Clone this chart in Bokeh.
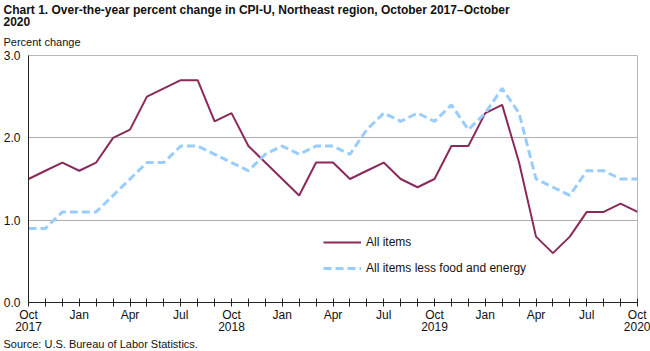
from bokeh.plotting import figure
from bokeh.models import (ColumnDataSource, FixedTicker, Legend, LegendItem,
                          Title, NumeralTickFormatter)
from bokeh.embed import file_html
from bokeh.resources import INLINE

months = ["Oct 2017", "Nov 2017", "Dec 2017", "Jan 2018", "Feb 2018", "Mar 2018",
          "Apr 2018", "May 2018", "Jun 2018", "Jul 2018", "Aug 2018", "Sep 2018",
          "Oct 2018", "Nov 2018", "Dec 2018", "Jan 2019", "Feb 2019", "Mar 2019",
          "Apr 2019", "May 2019", "Jun 2019", "Jul 2019", "Aug 2019", "Sep 2019",
          "Oct 2019", "Nov 2019", "Dec 2019", "Jan 2020", "Feb 2020", "Mar 2020",
          "Apr 2020", "May 2020", "Jun 2020", "Jul 2020", "Aug 2020", "Sep 2020",
          "Oct 2020"]
all_items = [1.5, 1.6, 1.7, 1.6, 1.7, 2.0, 2.1, 2.5, 2.6, 2.7, 2.7, 2.2,
             2.3, 1.9, 1.7, 1.5, 1.3, 1.7, 1.7, 1.5, 1.6, 1.7, 1.5, 1.4,
             1.5, 1.9, 1.9, 2.3, 2.4, 1.7, 0.8, 0.6, 0.8, 1.1, 1.1, 1.2, 1.1]
core = [0.9, 0.9, 1.1, 1.1, 1.1, 1.3, 1.5, 1.7, 1.7, 1.9, 1.9, 1.8,
        1.7, 1.6, 1.8, 1.9, 1.8, 1.9, 1.9, 1.8, 2.1, 2.3, 2.2, 2.3,
        2.2, 2.4, 2.1, 2.3, 2.6, 2.3, 1.5, 1.4, 1.3, 1.6, 1.6, 1.5, 1.5]
y_ticks = [0.0, 1.0, 2.0, 3.0]

x = list(range(len(months)))
src = ColumnDataSource(dict(x=x, all_items=all_items, core=core, month=months))

FONT = "Liberation Sans"

p = figure(width=650, height=351, output_backend="svg", toolbar_location=None,
           x_range=(0, len(months) - 1), y_range=(0, 3.0),
           min_border_left=28, min_border_right=13, min_border_top=0,
           min_border_bottom=0)

r1 = p.line("x", "all_items", source=src, line_color="#8B2A5A", line_width=2)
r2 = p.line("x", "core", source=src, line_color="#99CCFF", line_width=3,
            line_dash="8 4")

# axes
p.xaxis.ticker = FixedTicker(ticks=x)
overrides = {}
for i, m in enumerate(months):
    mon, yr = m.split()
    if mon == "Oct":
        overrides[i] = f"{mon}\n{yr}"
    elif mon in ("Jan", "Apr", "Jul"):
        overrides[i] = mon
    else:
        overrides[i] = ""
p.xaxis.major_label_overrides = overrides
p.xaxis.major_tick_in = 4
p.xaxis.major_tick_out = 4
p.xaxis.minor_tick_line_color = None
p.xaxis.axis_line_color = "#222222"
p.xaxis.major_tick_line_color = "#222222"
p.xaxis.major_label_text_font = FONT
p.xaxis.major_label_text_font_size = "12px"
p.xaxis.major_label_text_line_height = 0.9
p.xaxis.major_label_text_color = "#111111"
p.xaxis.major_label_standoff = 1

p.yaxis.ticker = FixedTicker(ticks=y_ticks)
p.yaxis.formatter = NumeralTickFormatter(format="0.0")
p.yaxis.major_tick_in = 0
p.yaxis.major_tick_out = 0
p.yaxis.minor_tick_line_color = None
p.yaxis.axis_line_color = "#222222"
p.yaxis.major_label_text_font = FONT
p.yaxis.major_label_text_font_size = "12px"
p.yaxis.major_label_text_color = "#111111"
p.yaxis.major_label_standoff = 8

p.xgrid.grid_line_color = None
p.ygrid.ticker = FixedTicker(ticks=y_ticks)
p.ygrid.grid_line_color = "#b0b0b0"
p.ygrid.grid_line_width = 1
p.outline_line_color = "#b8b8b8"
p.outline_line_width = 1
p.background_fill_color = "white"
p.border_fill_color = "white"

legend = Legend(items=[LegendItem(label="All items", renderers=[r1]),
                       LegendItem(label="All items less food and energy", renderers=[r2])],
                location=(295, 25), background_fill_alpha=0, border_line_color=None,
                glyph_width=38, glyph_height=18, spacing=8, padding=0, margin=0,
                label_text_font=FONT, label_text_font_size="12px",
                label_text_color="#111111", label_standoff=5)
p.add_layout(legend)

# titles above (first added is closest to the plot)
p.add_layout(Title(text="Percent change", text_font=FONT, text_font_size="11px",
                   text_font_style="normal", text_color="#111111", align="left",
                   offset=-25, standoff=12, text_line_height=1.0,
                   vertical_align="top"), "above")
p.add_layout(Title(text="Chart 1. Over-the-year percent change in CPI-U, Northeast region, October 2017\u2013October\n2020",
                   text_font=FONT, text_font_size="12px", text_line_height=0.9,
                   text_font_style="bold", text_color="#111111", align="left",
                   offset=-25, standoff=0), "above")
p.add_layout(Title(text="Source: U.S. Bureau of Labor Statistics.", text_font=FONT,
                   text_font_size="11px", text_font_style="normal",
                   text_color="#111111", align="left", offset=-25, standoff=0,
                   text_line_height=0.8, vertical_align="top"),
             "below")

open("out.html", "w").write(file_html(p, INLINE))
